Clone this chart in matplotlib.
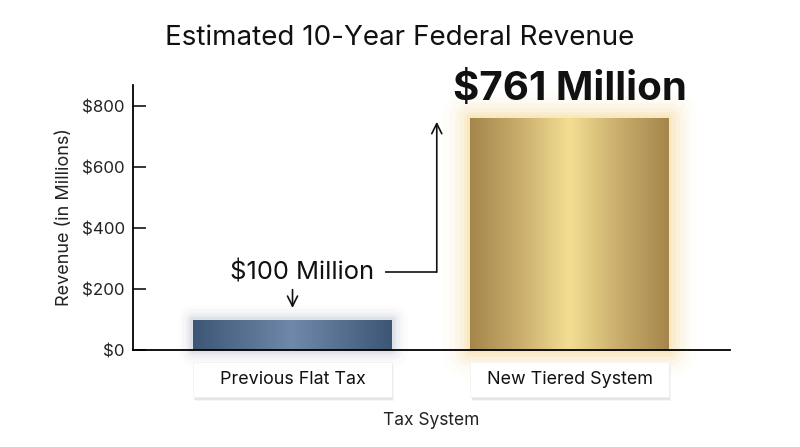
import numpy as np
import matplotlib
matplotlib.use('Agg')
import matplotlib.pyplot as plt
from matplotlib.patches import Rectangle
from matplotlib.colors import LinearSegmentedColormap
import matplotlib.transforms as mtransforms

plt.rcParams['font.family'] = ['Inter', 'DejaVu Sans']

# Data
categories = ['Previous Flat Tax', 'New Tiered System']
revenue = [100, 761]
value_labels = ['$100 Million', '$761 Million']
yticks = [0, 200, 400, 600, 800]
ytick_labels = ['$0', '$200', '$400', '$600', '$800']

fig = plt.figure(figsize=(8, 4.47), dpi=100)
ax = fig.add_axes([0.16625, 0.217, 0.74625, 0.593])

x = np.arange(len(categories))
width = 0.717
bars = ax.bar(x, revenue, width=width, color='none', zorder=3)

# Gradient fills for each bar
blue_cmap = LinearSegmentedColormap.from_list('blue', ['#3e5675', '#6f89aa', '#3e5675'])
gold_cmap = LinearSegmentedColormap.from_list('gold', ['#a4864c', '#c9ad6c', '#f3de92', '#c9ad6c', '#a4864c'])
grad = np.linspace(0, 1, 256).reshape(1, -1)

glows = [
    ('#8494b0', [(22, 0.025), (16, 0.04), (11, 0.06), (7, 0.08), (4, 0.10)]),
    ('#f2c24a', [(40, 0.025), (30, 0.04), (22, 0.055), (15, 0.075), (9, 0.10), (4, 0.12)]),
]
for bar, cmap, (glow, layers) in zip(bars, [blue_cmap, gold_cmap], glows):
    x0, y0 = bar.get_x(), bar.get_y()
    w, h = bar.get_width(), bar.get_height()
    # soft glow / shadow around the bar
    for lw, a in layers:
        ax.add_patch(Rectangle((x0, y0), w, h, facecolor='none', edgecolor=glow,
                               linewidth=lw, alpha=a, joinstyle='round', zorder=1,
                               clip_on=False))
    im = ax.imshow(grad, cmap=cmap, aspect='auto', extent=[x0, x0 + w, y0, y0 + h],
                   zorder=2, interpolation='bicubic')
    clip = Rectangle((x0, y0), w, h, transform=ax.transData)
    im.set_clip_path(clip)

ax.set_xlim(-0.575, 1.577)
ax.set_ylim(0, 870)

# Spines / ticks
for s in ['top', 'right']:
    ax.spines[s].set_visible(False)
ax.spines['left'].set_linewidth(1.3)
ax.spines['bottom'].set_linewidth(1.3)
ax.set_yticks(yticks)
ax.set_yticklabels(ytick_labels, fontsize=12.2, color='#222222')
ax.tick_params(axis='y', direction='in', length=9.5, width=1.1, pad=6)
ax.set_xticks([])
ax.set_ylabel('Revenue (in Millions)', fontsize=13, color='#222222', labelpad=6)

# Category label boxes below the axis
blend = mtransforms.blended_transform_factory(ax.transData, ax.transAxes)
for xi, name in zip(x, categories):
    bx = xi - width / 2
    for dx, dy, a in [(0.006, -0.016, 0.04), (0.004, -0.010, 0.06), (0.002, -0.005, 0.08)]:
        ax.add_patch(Rectangle((bx + dx, -0.177 + dy), width, 0.132, transform=blend,
                               facecolor='#000000', alpha=a, edgecolor='none',
                               clip_on=False, zorder=1))
    ax.add_patch(Rectangle((bx, -0.177), width, 0.132, transform=blend,
                           facecolor='white', edgecolor='#f0f0f0', linewidth=0.5,
                           clip_on=False, zorder=2))
    ax.text(xi, -0.111, name, transform=blend, ha='center', va='center',
            fontsize=12.9, color='#111111', zorder=3)

ax.text(0.5, -0.265, 'Tax System', transform=ax.transAxes, ha='center', va='center',
        fontsize=12.5, color='#222222')

# Title
fig.text(0.5, 0.915, 'Estimated 10-Year Federal Revenue', ha='center', va='center',
         fontsize=20, color='#111111')

# Value annotations
label_y = revenue[0] + 156
arrow_kw = dict(arrowstyle='->', color='#111111', lw=1.2, shrinkA=0, shrinkB=0,
                mutation_scale=18)
ax.text(x[0] + 0.036, label_y, value_labels[0], ha='center', va='center',
        fontsize=18.4, color='#111111')
ax.annotate('', xy=(x[0], revenue[0] + 38), xytext=(x[0], revenue[0] + 98),
            arrowprops=arrow_kw)
ax.plot([x[0] + 0.335, 0.52], [label_y, label_y], color='#111111', lw=1.2,
        solid_capstyle='butt')
ax.annotate('', xy=(0.52, revenue[1] - 12), xytext=(0.52, label_y - 0.6),
            arrowprops=arrow_kw)
ax.text(x[1], revenue[1] + 95, value_labels[1], ha='center', va='center',
        fontsize=29, fontweight='bold', color='#111111')

fig.savefig('out.png', dpi=100, facecolor='white')
